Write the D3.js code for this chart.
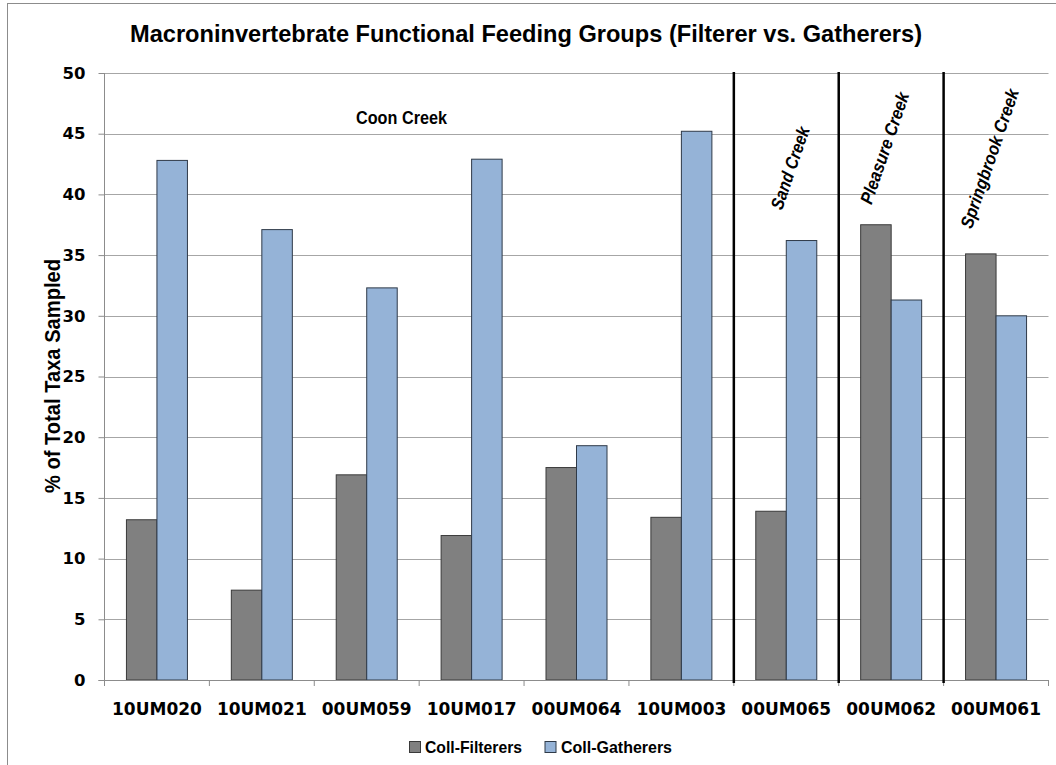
<!DOCTYPE html>
<html><head><meta charset="utf-8">
<script src="https://cdn.jsdelivr.net/npm/d3@7"></script>
<style>body{margin:0;background:#fff}svg{display:block}</style>
</head><body>
<script>
// ---- data ----
const sites = ["10UM020","10UM021","00UM059","10UM017","00UM064","10UM003","00UM065","00UM062","00UM061"];
const filterers = [13.2, 7.4, 16.9, 11.9, 17.5, 13.4, 13.9, 37.5, 35.1];
const gatherers = [42.8, 37.1, 32.3, 42.9, 19.3, 45.2, 36.2, 31.3, 30.0];
const seriesNames = ["Coll-Filterers", "Coll-Gatherers"];
const yTicks = [0, 5, 10, 15, 20, 25, 30, 35, 40, 45, 50];
const creekNames = ["Coon Creek", "Sand Creek", "Pleasure Creek", "Springbrook Creek"];
const dividerAfter = ["10UM003", "00UM065", "00UM062"];
const titleText = "Macroninvertebrate Functional Feeding Groups (Filterer vs. Gatherers)";
const yTitle = "% of Total Taxa Sampled";

// ---- layout ----
const W = 1056, H = 765;
const L = 104.5, R = 1048.5, T = 73, B = 680;
const FONT = "'Liberation Sans', Arial, sans-serif";
const TICKFONT = "'DejaVu Sans', Verdana, sans-serif";

const svg = d3.select("body").append("svg").attr("width", W).attr("height", H);

// outer chart border
svg.append("rect").attr("x", 7.5).attr("y", 3.5).attr("width", 1100).attr("height", 800)
  .attr("fill", "none").attr("stroke", "#8c8c8c").attr("stroke-width", 1);

const x = d3.scaleBand().domain(sites).range([L, R]).paddingInner(0).paddingOuter(0);
const y = d3.scaleLinear().domain([0, 50]).range([B, T]);
const barW = 30.5;
const series = [filterers, gatherers];
const colors = ["#808080", "#95B3D7"];
const strokes = ["#3a3a3a", "#2f3a48"];

// gridlines
svg.append("g").selectAll("line").data(yTicks.filter(d => d > 0)).join("line")
  .attr("x1", L).attr("x2", R)
  .attr("y1", d => Math.round(y(d)) + 0.5).attr("y2", d => Math.round(y(d)) + 0.5)
  .attr("stroke", "#a6a6a6").attr("stroke-width", 1);

// y axis
const yAxis = d3.axisLeft(y).tickValues(yTicks).tickSize(6).tickPadding(13);
const gy = svg.append("g").attr("transform", `translate(${L},0)`).call(yAxis);
gy.select(".domain").attr("stroke", "#8c8c8c").attr("d", `M-0,${T}V${B}`);
gy.selectAll(".tick line").attr("stroke", "#8c8c8c");
gy.selectAll(".tick text").attr("font-family", TICKFONT).attr("font-weight", "bold")
  .attr("font-size", 16.5).attr("fill", "#000");

// bars
series.forEach((vals, si) => {
  svg.append("g").selectAll("rect").data(sites).join("rect")
    .attr("x", d => x(d) + x.bandwidth() / 2 - barW + si * barW)
    .attr("width", barW)
    .attr("y", (d, i) => y(vals[i]))
    .attr("height", (d, i) => B - y(vals[i]))
    .attr("fill", colors[si]).attr("stroke", strokes[si]).attr("stroke-width", 1);
});

// x axis
const gx = svg.append("g").attr("transform", `translate(0,${B})`);
gx.append("line").attr("x1", L - 6).attr("x2", R).attr("y1", 0.5).attr("y2", 0.5).attr("stroke", "#8c8c8c");
const bounds = sites.map(s => x(s)).concat([R]);
gx.selectAll("line.tk").data(bounds).join("line").attr("class", "tk")
  .attr("x1", d => d).attr("x2", d => d).attr("y1", 0).attr("y2", 6).attr("stroke", "#8c8c8c");
gx.selectAll("text").data(sites).join("text")
  .attr("x", d => x(d) + x.bandwidth() / 2).attr("y", 34.5)
  .attr("text-anchor", "middle").attr("font-family", TICKFONT).attr("font-weight", "bold")
  .attr("font-size", 17).attr("fill", "#000").text(d => d);

// creek dividers
svg.append("g").selectAll("line").data(dividerAfter).join("line")
  .attr("x1", d => x(d) + x.bandwidth()).attr("x2", d => x(d) + x.bandwidth())
  .attr("y1", T - 1).attr("y2", B + 3)
  .attr("stroke", "#000").attr("stroke-width", 2.5);

// creek labels
svg.append("text").attr("x", 401.5).attr("y", 124).attr("text-anchor", "middle")
  .attr("font-family", FONT).attr("font-weight", "bold").attr("font-size", 18)
  .attr("textLength", 91).attr("lengthAdjust", "spacingAndGlyphs").text(creekNames[0]);
const rot = [
  {name: creekNames[1], cx: 796, cy: 170, len: 86},
  {name: creekNames[2], cx: 890.5, cy: 150, len: 117},
  {name: creekNames[3], cx: 995.5, cy: 160.5, len: 146}
];
svg.append("g").selectAll("text").data(rot).join("text")
  .attr("transform", d => `translate(${d.cx},${d.cy}) rotate(-71)`)
  .attr("text-anchor", "middle").attr("font-family", FONT).attr("font-weight", "bold")
  .attr("font-style", "italic").attr("font-size", 18)
  .attr("textLength", d => d.len).attr("lengthAdjust", "spacingAndGlyphs").text(d => d.name);

// title
svg.append("text").attr("x", 130).attr("y", 42).attr("font-family", FONT)
  .attr("font-weight", "bold").attr("font-size", 24).attr("fill", "#000")
  .attr("textLength", 792).attr("lengthAdjust", "spacingAndGlyphs").text(titleText);

// y axis title
svg.append("text").attr("transform", "translate(60,376) rotate(-90)")
  .attr("text-anchor", "middle").attr("font-family", FONT).attr("font-weight", "bold")
  .attr("font-size", 22).attr("fill", "#000")
  .attr("textLength", 234).attr("lengthAdjust", "spacingAndGlyphs").text(yTitle);

// legend
const leg = [
  {name: seriesNames[0], sx: 409.5, tx: 425, len: 97, c: colors[0], s: strokes[0]},
  {name: seriesNames[1], sx: 545, tx: 561, len: 111, c: colors[1], s: strokes[1]}
];
const lg = svg.append("g");
lg.selectAll("rect").data(leg).join("rect")
  .attr("x", d => d.sx).attr("y", 741.5).attr("width", 11).attr("height", 11)
  .attr("fill", d => d.c).attr("stroke", d => d.s).attr("stroke-width", 1);
lg.selectAll("text").data(leg).join("text")
  .attr("x", d => d.tx).attr("y", 753).attr("font-family", FONT).attr("font-weight", "bold")
  .attr("font-size", 16.5).attr("fill", "#000")
  .attr("textLength", d => d.len).attr("lengthAdjust", "spacingAndGlyphs").text(d => d.name);
</script>
</body></html>
